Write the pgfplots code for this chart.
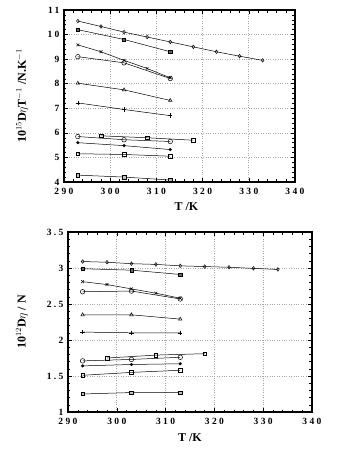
\documentclass[border=0pt]{standalone}
\usepackage{fontspec}
\setmainfont{Liberation Serif}
\usepackage{pgfplots}
\pgfplotsset{compat=1.18}
\begin{document}
\begin{tikzpicture}
\path (0pt,0pt) rectangle (363pt,451pt);
\pgfplotsset{
  myax/.style={
    scale only axis,
    axis line style={line width=1.3pt},
    xmin=290,xmax=340,
    xtick={290,300,...,340},
    minor x tick num=4,
    minor y tick num=4,
    tick align=inside,
    major tick length=4pt,
    minor tick length=2.5pt,
    tick style={black,line width=0.5pt},
    grid=major,
    major grid style={dotted,gray!70,line width=0.6pt},
    tick label style={font=\fontsize{9.5}{10}\selectfont\bfseries\addfontfeatures{LetterSpace=25}},
    xticklabel style={yshift=-3pt},
    yticklabel style={xshift=-1pt},
    /pgf/number format/assume math mode=true,
    label style={font=\fontsize{12}{13}\selectfont\bfseries},
    xlabel={T /K},
    every axis plot/.append style={black,line width=0.5pt,mark size=1.8pt},
    clip=false,
  },
  dm/.style={mark=diamond,mark size=1.8pt},
  sqd/.style={mark=square*,mark options={fill=black!60},mark size=1.6pt},
  xx/.style={mark=x,mark size=2pt},
  oc/.style={mark=o,mark size=2.3pt},
  tr/.style={mark=triangle,mark size=2pt},
  pl/.style={mark=+,mark size=2.2pt},
  sqo/.style={mark=square,mark size=1.8pt},
  sqg/.style={mark=square*,mark options={fill=black!25},mark size=1.7pt},
  fd/.style={mark=*,mark size=1.3pt},
}
\begin{axis}[myax, at={(64pt,269pt)}, anchor=south west, width=231pt, height=172pt,
  ymin=4,ymax=11, ytick={4,5,...,11},
  ylabel={10$^{15}$D$\eta$T$^{-1}$ /N.K$^{-1}$},
  ylabel style={at={(axis description cs:-0.14,0.5)}},
  xlabel style={at={(axis description cs:0.53,-0.1)}}]
\addplot[dm] coordinates {(293,10.55)(298,10.33)(303,10.10)(308,9.90)(313,9.70)(318,9.50)(323,9.30)(328,9.12)(333,8.95)};
\addplot[sqd] coordinates {(293,10.20)(303,9.80)(313,9.30)};
\addplot[xx] coordinates {(293,9.58)(298,9.30)(303,8.95)(308,8.62)(313,8.24)};
\addplot[oc] coordinates {(293,9.10)(303,8.85)(313,8.21)};
\addplot[tr] coordinates {(293,8.02)(303,7.75)(313,7.32)};
\addplot[pl] coordinates {(293,7.22)(303,6.95)(313,6.70)};
\addplot[oc] coordinates {(293,5.85)(303,5.72)(313,5.65)};
\addplot[sqo] coordinates {(298,5.88)(308,5.80)(318,5.70)};
\addplot[fd] coordinates {(293,5.60)(303,5.48)(313,5.32)};
\addplot[sqo] coordinates {(293,5.15)(303,5.12)(313,5.05)};
\addplot[sqg] coordinates {(293,4.28)(303,4.20)(313,4.08)};
\end{axis}
\begin{axis}[myax, at={(68pt,39pt)}, anchor=south west, width=244pt, height=180pt,
  ymin=1,ymax=3.5, ytick={1,1.5,...,3.5},
  yticklabel style={/pgf/number format/.cd,fixed,precision=1},
  ylabel={10$^{12}$D$\eta$ / N},
  ylabel style={at={(axis description cs:-0.15,0.5)}},
  xlabel style={at={(axis description cs:0.5,-0.1)}}]
\addplot[dm] coordinates {(293,3.09)(298,3.08)(303,3.06)(308,3.05)(313,3.03)(318,3.02)(323,3.01)(328,2.995)(333,2.98)};
\addplot[sqd] coordinates {(293,2.99)(303,2.97)(313,2.91)};
\addplot[xx] coordinates {(293,2.81)(298,2.77)(303,2.71)(308,2.65)(313,2.58)};
\addplot[oc] coordinates {(293,2.67)(303,2.68)(313,2.57)};
\addplot[tr] coordinates {(293,2.35)(303,2.35)(313,2.29)};
\addplot[pl] coordinates {(293,2.11)(303,2.10)(313,2.10)};
\addplot[oc] coordinates {(293,1.71)(303,1.73)(313,1.76)};
\addplot[sqo] coordinates {(298,1.75)(308,1.79)(318,1.81)};
\addplot[fd] coordinates {(293,1.64)(303,1.66)(313,1.67)};
\addplot[sqo] coordinates {(293,1.51)(303,1.55)(313,1.58)};
\addplot[sqg] coordinates {(293,1.25)(303,1.27)(313,1.27)};
\end{axis}
\end{tikzpicture}
\end{document}
